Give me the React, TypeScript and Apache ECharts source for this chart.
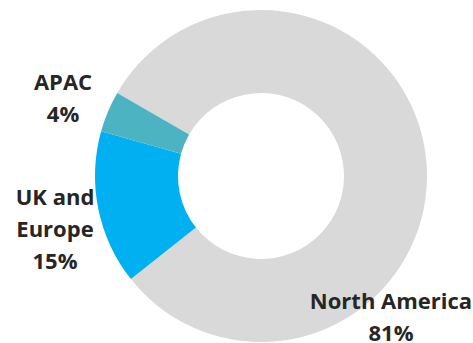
import React, { useEffect, useRef } from "react";
import * as echarts from "echarts";

const categories = ["North America", "UK and Europe", "APAC"];
const labelNames = ["North America", "UK and\nEurope", "APAC"];
const shares = [81, 15, 4];
const colors = ["#d9d9d9", "#00b0f0", "#4bb3c1"];
// label anchor points (centre of each text block), in pixels
const labelAnchors = [
  [391, 316],
  [55, 228],
  [63, 97],
];

export default function App() {
  const ref = useRef<HTMLDivElement>(null);
  useEffect(() => {
    document.body.style.margin = "0";
    const chart = echarts.init(ref.current!, null, { renderer: "svg" });
    chart.setOption({
      animation: false,
      backgroundColor: "#ffffff",
      series: [
        {
          type: "pie",
          center: [261, 176],
          radius: [83, 166],
          startAngle: 150,
          clockwise: true,
          avoidLabelOverlap: false,
          silent: true,
          data: categories.map((c, i) => ({
            name: c,
            value: shares[i],
            itemStyle: { color: colors[i] },
            label: { formatter: labelNames[i] + "\n" + shares[i] + "%" },
          })),
          itemStyle: { borderWidth: 0 },
          label: {
            show: true,
            position: "outside",
            fontFamily: "Open Sans",
            fontWeight: "bold",
            fontSize: 22,
            lineHeight: 32,
            color: "#262626",
            align: "center",
          },
          labelLine: { show: false },
          labelLayout: (params: any) => {
            const p = labelAnchors[params.dataIndex];
            return { x: p[0], y: p[1], align: "center", verticalAlign: "middle" };
          },
        },
      ],
    });
    return () => chart.dispose();
  }, []);
  return <div ref={ref} style={{ width: 473, height: 343, position: "fixed", left: 0, top: 0 }} />;
}
